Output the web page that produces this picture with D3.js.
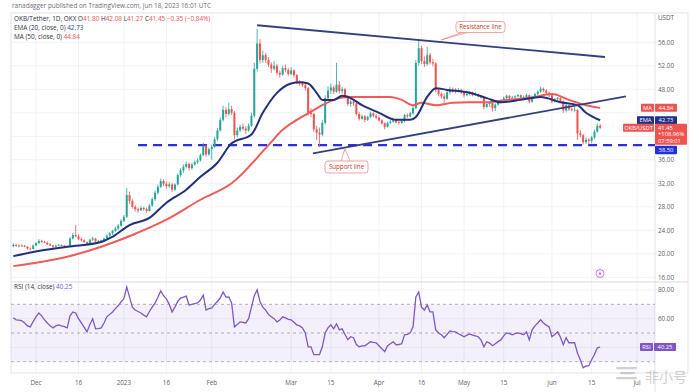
<!DOCTYPE html>
<html><head><meta charset="utf-8">
<script src="https://cdn.jsdelivr.net/npm/d3@7"></script>
<style>html,body{margin:0;padding:0;background:#fff;}svg{display:block;font-family:"Open Sans",Roboto,"Noto Sans",sans-serif;}</style>
</head><body>
<svg id="c" width="691" height="392"></svg>
<script>
// ---------------- DATA ----------------
const firstDay = "2022-11-23";           // first daily candle
// [open, high, low, close] per day, by month
const candlesNov = [[21.3,21.8,21.1,21.5],[21.5,21.7,21.2,21.4],[21.4,21.6,21.1,21.3],[21.3,21.6,21.2,21.4],[21.4,21.5,21.1,21.2],[21.2,21.3,20.7,20.9],[20.9,21.1,20.6,20.8],[20.8,21.6,20.8,21.4]];
const candlesDec = [[21.4,22.0,21.3,21.8],[21.8,22.5,21.7,22.2],[22.2,22.4,21.9,22.0],[22.0,22.2,21.8,21.9],[21.9,22.1,21.5,21.6],[21.6,21.8,21.3,21.4],[21.4,21.5,21.0,21.2],[21.2,21.6,21.1,21.4],[21.4,21.7,21.3,21.5],[21.5,21.6,21.3,21.4],[21.4,21.5,21.2,21.3],[21.3,21.4,21.0,21.2],[21.2,22.9,21.1,22.6],[22.6,23.6,22.4,23.2],[23.2,24.9,22.8,23.0],[23.0,23.3,22.3,22.5],[22.5,22.8,22.1,22.3],[22.3,22.5,21.9,22.0],[22.0,22.1,21.5,21.7],[21.7,22.6,21.6,22.4],[22.4,22.9,22.2,22.6],[22.6,22.7,21.9,22.1],[22.1,22.4,22.0,22.2],[22.2,22.4,22.1,22.3],[22.3,22.8,22.2,22.6],[22.6,23.3,22.5,23.1],[23.1,23.7,22.9,23.5],[23.5,24.1,23.2,23.9],[23.9,24.6,23.7,24.3],[24.3,25.1,24.0,24.8],[24.8,25.9,24.6,25.6]];
const candlesJan = [[25.6,26.6,25.4,26.3],[26.3,31.2,26.1,30.0],[30.0,30.6,28.5,29.0],[29.0,29.3,27.7,28.0],[28.0,28.3,27.2,27.6],[27.6,27.9,27.0,27.4],[27.4,28.1,27.3,27.8],[27.8,28.0,27.3,27.6],[27.6,27.9,27.0,27.3],[27.3,28.5,27.2,28.2],[28.2,29.6,28.0,29.3],[29.3,30.8,29.0,30.4],[30.4,31.8,30.1,31.4],[31.4,32.8,31.2,32.4],[32.4,32.7,31.5,31.9],[31.9,32.3,31.1,31.5],[31.5,32.2,31.2,31.8],[31.8,32.1,30.5,30.9],[30.9,32.0,30.7,31.8],[31.8,33.7,31.6,33.4],[33.4,34.6,33.1,34.2],[34.2,35.2,33.8,34.8],[34.8,35.7,34.5,35.3],[35.3,35.5,34.2,34.6],[34.6,35.5,34.3,35.2],[35.2,35.9,35.0,35.6],[35.6,36.3,35.3,35.9],[35.9,37.1,35.7,36.8],[36.8,38.9,36.6,38.4],[38.4,38.6,36.5,36.9],[36.9,38.1,36.7,37.8]];
const candlesFeb = [[37.8,38.6,36.0,38.2],[38.2,39.9,38.0,39.5],[39.5,41.4,39.2,41.0],[41.0,43.2,40.8,42.8],[42.8,45.2,42.5,44.5],[44.5,45.0,43.2,43.8],[43.8,45.7,43.5,44.6],[44.6,45.2,43.6,44.0],[44.0,44.3,39.4,40.2],[40.2,41.5,39.8,41.0],[41.0,42.0,40.7,41.6],[41.6,42.2,41.0,41.3],[41.3,41.7,40.4,41.0],[41.0,42.2,40.8,41.8],[41.8,44.0,41.6,43.5],[43.5,52.5,43.2,51.5],[51.5,58.3,51.0,55.8],[55.8,56.5,52.4,53.0],[53.0,54.6,52.5,53.8],[53.8,54.2,52.5,53.0],[53.0,53.5,51.8,52.2],[52.2,52.6,50.8,51.5],[51.5,52.8,51.2,52.0],[52.0,52.3,50.4,50.8],[50.8,51.2,50.0,50.5],[50.5,52.0,50.3,51.6],[51.6,52.2,51.0,51.3],[51.3,51.6,50.3,50.6]];
const candlesMar = [[50.6,51.8,50.4,51.2],[51.2,51.4,50.0,50.4],[50.4,50.6,48.9,49.3],[49.3,49.6,48.6,49.0],[49.0,49.4,48.4,48.7],[48.7,49.2,47.8,48.2],[48.2,48.4,43.5,44.0],[44.0,44.8,43.2,43.8],[43.8,44.0,40.8,41.2],[41.2,41.8,39.4,40.6],[40.6,41.5,38.2,40.3],[40.3,42.8,40.0,42.3],[42.3,47.0,42.0,46.5],[46.5,48.5,46.0,47.8],[47.8,49.0,47.2,48.3],[48.3,48.6,47.2,47.6],[47.6,52.5,47.4,48.8],[48.8,49.4,47.3,47.7],[47.7,48.4,47.3,48.0],[48.0,48.2,46.5,46.8],[46.8,47.0,45.2,45.5],[45.5,46.3,45.0,45.9],[45.9,46.2,45.2,45.6],[45.6,45.8,43.5,43.8],[43.8,44.1,42.7,43.0],[43.0,43.7,42.8,43.4],[43.4,43.6,42.4,42.8],[42.8,43.5,42.6,43.3],[43.3,44.2,43.1,43.9],[43.9,44.1,43.2,43.5],[43.5,43.8,42.9,43.2]];
const candlesApr = [[43.2,43.4,42.5,42.7],[42.7,42.9,42.0,42.2],[42.2,42.4,41.2,41.6],[41.6,42.5,41.5,42.3],[42.3,42.8,42.1,42.5],[42.5,43.2,42.3,42.9],[42.9,43.0,42.2,42.4],[42.4,42.6,42.0,42.3],[42.3,42.8,42.1,42.6],[42.6,43.8,42.4,43.6],[43.6,43.9,43.1,43.4],[43.4,44.2,43.2,43.9],[43.9,45.2,43.7,44.8],[44.8,53.0,44.6,52.5],[52.5,56.6,52.0,55.0],[55.0,55.4,52.3,52.8],[52.8,53.6,51.8,52.3],[52.3,55.2,52.0,53.8],[53.8,54.2,52.2,52.6],[52.6,53.2,51.9,52.4],[52.4,52.6,47.5,47.9],[47.9,48.2,46.8,47.2],[47.2,47.5,46.4,46.8],[46.8,47.3,45.7,46.4],[46.4,47.8,46.2,47.5],[47.5,48.4,47.1,48.0],[48.0,48.3,47.4,47.8],[47.8,48.2,47.3,47.7],[47.7,48.2,47.5,47.9],[47.9,48.1,47.2,47.5]];
const candlesMay = [[47.5,47.7,46.6,47.0],[47.0,47.5,46.8,47.2],[47.2,47.7,46.9,47.4],[47.4,47.6,46.8,47.0],[47.0,47.5,46.9,47.2],[47.2,47.3,46.6,46.8],[46.8,47.0,46.4,46.6],[46.6,46.7,44.6,45.0],[45.0,45.8,44.8,45.5],[45.5,46.0,45.0,45.7],[45.7,45.8,44.2,44.8],[44.8,45.6,44.3,45.4],[45.4,46.1,45.2,45.9],[45.9,46.3,45.6,46.0],[46.0,46.8,45.8,46.5],[46.5,47.1,46.3,46.9],[46.9,47.0,46.2,46.5],[46.5,46.9,46.2,46.6],[46.6,47.0,46.4,46.8],[46.8,47.2,46.6,47.0],[47.0,47.1,46.4,46.6],[46.6,46.9,46.3,46.7],[46.7,47.3,46.5,47.0],[47.0,47.1,45.6,45.9],[45.9,46.9,45.7,46.8],[46.8,47.4,46.6,47.2],[47.2,47.8,47.0,47.6],[47.6,48.4,47.4,48.1],[48.1,48.3,47.5,47.8],[47.8,48.0,47.1,47.4],[47.4,47.6,46.7,47.0]];
const candlesJun = [[47.0,47.1,45.6,45.9],[45.9,46.5,45.7,46.3],[46.3,46.7,46.0,46.5],[46.5,46.6,45.8,46.0],[46.0,46.1,44.0,44.4],[44.4,45.6,44.1,45.3],[45.3,45.4,44.3,44.6],[44.6,44.9,44.2,44.5],[44.5,45.0,44.2,44.5],[44.5,44.6,39.4,40.5],[40.5,41.1,39.8,40.2],[40.2,40.4,38.6,39.0],[39.0,39.8,38.7,39.4],[39.4,39.7,38.5,39.2],[39.2,40.1,38.8,39.8],[39.8,41.1,39.5,40.8],[40.8,42.2,40.6,41.8],[41.80,42.08,41.27,41.45]];

// EMA(20) and MA(50): [day offset from firstDay, value]
const ema20 = [[0,19.6],[7,20.3],[19,21.2],[31,22.0],[35,22.9],[41,24.9],[48,26.1],[54,28.7],[61,30.9],[66,33.1],[72,35.5],[77,38.8],[84,40.3],[88,44.0],[93,47.4],[98,49.0],[101,49.2],[104,49.0],[107,47.4],[109,46.2],[113,46.2],[116,46.9],[119,46.5],[123,45.3],[129,44.0],[135,42.8],[140,42.8],[142,43.3],[146,46.7],[149,48.2],[153,47.9],[161,47.4],[167,46.5],[172,45.8],[179,46.2],[186,46.7],[193,45.8],[199,45.3],[202,44.0],[207,42.73]];
const ma50 = [[0,17.9],[7,18.4],[19,19.5],[31,21.2],[42,23.2],[54,25.8],[66,29.2],[77,32.0],[90,38.5],[95,41.1],[100,42.8],[105,44.2],[109,45.3],[115,46.5],[119,46.7],[123,46.7],[133,46.7],[137,46.2],[141,45.3],[144,45.7],[149,45.3],[155,45.7],[161,45.8],[167,45.8],[174,46.2],[182,46.5],[190,47.2],[196,46.2],[202,45.3],[207,44.84]];
// RSI(14) per day
const rsi = [60.6,59.2,59,58.5,57,55,54.3,58,61.3,64,62,59.2,57,55,53.6,55,55.7,55,54.5,53.6,62,64.7,64,60,57,54,50.8,56,59.9,52.9,53,53.6,57,61.3,63,64.7,67,69,71.7,74,82,75,68,66,65,64,62.5,61.3,65,68,71,75,79.3,76,73.8,70,64.7,68,72,74.4,75,75.8,69.6,70,70.5,71,73,76.5,66,67,67.5,70,72,74.4,78.6,75,75.1,71,54.3,56,57.8,57.5,57,60,68,76,80,72,68,66,63,61.3,60,57.8,59,61.3,60.5,59.5,59.2,57.5,55.7,55,53.6,50,40.4,40.4,34.9,35,34.9,40.4,50,53.6,55.7,52.9,56.4,52.2,52.9,49,45.3,47.4,46.7,42,40.4,41,41.1,42.5,43.9,43.5,43.2,41.1,39,37,41,42.5,43.9,41.8,42,42.5,48.8,49,50.1,54.3,75.1,78.6,68,66,69.6,64.7,64.7,52.2,50,48.8,46.7,49,51.5,51,50.8,49.5,48.5,47.4,48.5,49.4,48.5,48,47.4,45,40.4,43.9,43,41.1,42.5,44,45.3,48,50.1,49.5,48.8,49.5,50.1,49.5,48.8,50.8,45.3,52.2,55,57,59.2,57,55.5,54.3,47.4,49,50.8,47,41.8,46.7,43.2,43.2,43.2,36,31.4,25.8,27,27.2,31.4,35,39.7,40.25];

// drawn lines: [day offset, price]
const resistanceLine = [[86,58.9],[208.7,53.5]];
const supportLine = [[105.7,37.1],[216.1,46.8]];
const supportLevel = 38.5, supportLevelFrom = 44;

const priceTicks = [56,52,48,36,32,28,24,20,16];
const rsiTicks = [80,60];
const rsiBands = [70,50,30];
const xTicks = [["2022-12-01","Dec"],["2022-12-16","16"],["2023-01-01","2023"],["2023-01-16","16"],["2023-02-01","Feb"],["2023-03-01","Mar"],["2023-03-15","15"],["2023-04-01","Apr"],["2023-04-16","16"],["2023-05-01","May"],["2023-05-15","15"],["2023-06-01","Jun"],["2023-06-15","15"],["2023-07-01","Jul"]];
const header = {by:"ranadagger published on TradingView.com, Jun 18, 2023 16:01 UTC", sym:"OKB/Tether, 1D, OKX", o:"41.80", h:"42.08", l:"41.27", c:"41.45", chg:"−0.35 (−0.84%)"};
const lastInfo = {ma:"44.84", ema:"42.73", price:"41.45", pct:"+108.96%", timer:"07:59:01", level:"38.50", rsi:"40.25"};

// ---------------- CHART ----------------
const candles = [].concat(candlesNov,candlesDec,candlesJan,candlesFeb,candlesMar,candlesApr,candlesMay,candlesJun);
const t0 = d3.utcParse("%Y-%m-%d")(firstDay);
const dayDate = i => new Date(t0.getTime() + i*86400000);
const pd = d3.utcParse("%Y-%m-%d");

const svg = d3.select("#c");
const L = 11, R = 655, PT = 13, PB = 282, RB = 373;
const x = d3.scaleUtc().domain([pd("2022-12-01"), pd("2023-07-01")]).range([36, 637]);
const y = d3.scaleLinear().domain([16,56]).range([277.3,42.3]);
const yr = d3.scaleLinear().domain([30,80]).range([361.7,290]);
const green = "#26a69a", red = "#ef5350", navy = "#22307a", grid = "#f0f2f7";

// grid
const g = svg.append("g");
g.selectAll(".vg").data(xTicks).join("line").attr("x1",d=>x(pd(d[0]))).attr("x2",d=>x(pd(d[0]))).attr("y1",PT).attr("y2",RB).attr("stroke",grid).attr("stroke-width",1);
g.selectAll(".hg").data(d3.range(16,57,4)).join("line").attr("x1",L).attr("x2",R).attr("y1",d=>y(d)).attr("y2",d=>y(d)).attr("stroke",grid);
g.selectAll(".rg").data([80,60,40]).join("line").attr("x1",L).attr("x2",R).attr("y1",d=>yr(d)).attr("y2",d=>yr(d)).attr("stroke",grid);

// frame
svg.append("rect").attr("x",L).attr("y",PT).attr("width",688-L).attr("height",RB-PT).attr("fill","none").attr("stroke","#e0e3eb");
svg.append("line").attr("x1",R).attr("x2",R).attr("y1",PT).attr("y2",392).attr("stroke","#e0e3eb");
svg.append("line").attr("x1",L).attr("x2",688).attr("y1",PB).attr("y2",PB).attr("stroke","#d6d9e0");

// RSI band
svg.append("rect").attr("x",L).attr("width",R-L).attr("y",yr(70)).attr("height",yr(30)-yr(70)).attr("fill","#7e57c2").attr("fill-opacity",0.09);
svg.selectAll(".rb").data(rsiBands).join("line").attr("x1",L).attr("x2",R).attr("y1",d=>yr(d)).attr("y2",d=>yr(d)).attr("stroke","#9e9bb0").attr("stroke-dasharray","3,3").attr("stroke-width",0.8);

// horizontal support level
svg.append("line").attr("x1",x(dayDate(supportLevelFrom))).attr("x2",R).attr("y1",y(supportLevel)).attr("y2",y(supportLevel)).attr("stroke","#2b2fe0").attr("stroke-width",2.2).attr("stroke-dasharray","9,6");

// candles
const cg = svg.append("g");
cg.selectAll(".wick").data(candles).join("line")
  .attr("x1",(d,i)=>x(dayDate(i))).attr("x2",(d,i)=>x(dayDate(i)))
  .attr("y1",d=>y(d[1])).attr("y2",d=>y(d[2]))
  .attr("stroke",d=>d[3]>=d[0]?green:red).attr("stroke-width",0.8);
cg.selectAll(".body").data(candles).join("rect")
  .attr("x",(d,i)=>x(dayDate(i))-1).attr("width",2)
  .attr("y",d=>y(Math.max(d[0],d[3])))
  .attr("height",d=>Math.max(0.8,Math.abs(y(d[0])-y(d[3]))))
  .attr("fill",d=>d[3]>=d[0]?green:red);

// MA / EMA
const line = d3.line().x(d=>x(dayDate(d[0]))).y(d=>y(d[1])).curve(d3.curveMonotoneX);
svg.append("path").attr("d",line(ma50)).attr("fill","none").attr("stroke","#f05a57").attr("stroke-width",2);
svg.append("path").attr("d",line(ema20)).attr("fill","none").attr("stroke",navy).attr("stroke-width",2);

// trend lines
const tl = d3.line().x(d=>x(dayDate(d[0]))).y(d=>y(d[1]));
svg.append("path").attr("d",tl(resistanceLine)).attr("stroke","#34407e").attr("stroke-width",1.8).attr("fill","none");
svg.append("path").attr("d",tl(supportLine)).attr("stroke","#34407e").attr("stroke-width",1.8).attr("fill","none");

// callouts
function callout(bx,by,bw,bh,ax,text){
  const p = `M${bx+3},${by} H${bx+bw-3} Q${bx+bw},${by} ${bx+bw},${by+3} V${by+bh-3} Q${bx+bw},${by+bh} ${bx+bw-3},${by+bh} H${bx+3} Q${bx},${by+bh} ${bx},${by+bh-3} V${by+3} Q${bx},${by} ${bx+3},${by} Z`;
  svg.append("path").attr("d",p).attr("fill","#fff").attr("stroke","#e8908a").attr("stroke-width",0.8);
  svg.append("path").attr("d",ax).attr("fill","none").attr("stroke","#e8908a").attr("stroke-width",0.8);
  svg.append("text").attr("x",bx+bw/2).attr("y",by+bh/2+2.2).attr("text-anchor","middle").attr("font-size",6.2).attr("fill","#c0392b").text(text);
}
callout(456,21.5,49,11,"M462,32.5 L441,40 L467,32.5","Resistance line");
callout(325,161,43,12,"M341,161 L345,149 L350,161","Support line");

// RSI line
const rl = d3.line().x((d,i)=>x(dayDate(i))).y(d=>yr(d));
svg.append("path").attr("d",rl(rsi)).attr("fill","none").attr("stroke","#7e57c2").attr("stroke-width",1.3);

// event marker
svg.append("circle").attr("cx",600).attr("cy",273.5).attr("r",4).attr("fill","#fff").attr("stroke","#c27bd6").attr("stroke-width",1);
svg.append("circle").attr("cx",600).attr("cy",273.5).attr("r",1.3).attr("fill","#c27bd6");

// price axis
const ax = svg.append("g").attr("font-size",6.3).attr("fill","#5d606b");
ax.append("text").attr("x",658).attr("y",20).text("USDT");
ax.selectAll(".pt").data(priceTicks).join("text").attr("x",658).attr("y",d=>y(d)+2.2).text(d=>d.toFixed(2));
ax.selectAll(".rt").data(rsiTicks).join("text").attr("x",658).attr("y",d=>yr(d)+2.2).text(d=>d.toFixed(2));

function tag(x0,w,yc,h,fill,txt,col){
  svg.append("rect").attr("x",x0).attr("y",yc-h/2).attr("width",w).attr("height",h).attr("fill",fill).attr("rx",0.8);
  svg.append("text").attr("x",x0+w/2).attr("y",yc+2.1).attr("text-anchor","middle").attr("font-size",5.8).attr("fill",col||"#fff").text(txt);
}
tag(641,13,y(44.84),8,red,"MA"); tag(655,22,y(44.84),8,red,lastInfo.ma);
tag(637,17,y(42.73),8,"#1f2f8a","EMA"); tag(655,22,y(42.73),8,"#1f2f8a",lastInfo.ema);
tag(623,31,y(41.45),8,red,"OKB/USDT");
svg.append("rect").attr("x",655).attr("y",y(41.45)-4).attr("width",32).attr("height",21).attr("fill",red).attr("rx",0.8);
[lastInfo.price,lastInfo.pct,lastInfo.timer].forEach((t,k)=>svg.append("text").attr("x",658).attr("y",y(41.45)+2.1+k*6.6).attr("font-size",5.8).attr("fill","#fff").text(t));
tag(655,22,y(38.5)+4.8,8.5,"#2230d8",lastInfo.level);
tag(640,13,yr(40.25),8,"#7e57c2","RSI"); tag(654,22,yr(40.25),8,"#7e57c2",lastInfo.rsi);

// time axis
svg.append("g").attr("font-size",6.3).attr("fill","#5d606b").selectAll("text").data(xTicks).join("text")
  .attr("x",d=>x(pd(d[0]))).attr("y",385).attr("text-anchor","middle").text(d=>d[1]);

// header
const hd = svg.append("g").attr("font-size",6.4);
hd.append("text").attr("x",12).attr("y",8).attr("fill","#6a6d78").text(header.by);
const t2 = hd.append("text").attr("x",14).attr("y",21).attr("fill","#2f3241");
t2.append("tspan").text(header.sym+"  O");
t2.append("tspan").attr("fill",red).text(header.o);
t2.append("tspan").text(" H"); t2.append("tspan").attr("fill",red).text(header.h);
t2.append("tspan").text(" L"); t2.append("tspan").attr("fill",red).text(header.l);
t2.append("tspan").text(" C"); t2.append("tspan").attr("fill",red).text(header.c);
t2.append("tspan").attr("fill",red).text(" "+header.chg);
const t3 = hd.append("text").attr("x",14).attr("y",30).attr("fill","#2f3241");
t3.append("tspan").text("EMA (20, close, 0) "); t3.append("tspan").attr("fill","#2a3fa0").text(lastInfo.ema);
const t4 = hd.append("text").attr("x",14).attr("y",39).attr("fill","#2f3241");
t4.append("tspan").text("MA (50, close, 0) "); t4.append("tspan").attr("fill",red).text(lastInfo.ma);
const t5 = hd.append("text").attr("x",14).attr("y",289).attr("fill","#2f3241");
t5.append("tspan").text("RSI (14, close) "); t5.append("tspan").attr("fill","#7e57c2").text(lastInfo.rsi);

// watermark
const wm = svg.append("g").attr("opacity",0.45);
[0,5,10].forEach((o,k)=>wm.append("rect").attr("x",616+(k===1?4:0)).attr("y",367+o).attr("width",k===1?15:21).attr("height",2.2).attr("rx",1.1).attr("fill","#9a9a9a"));
wm.append("text").attr("x",645).attr("y",382).attr("font-size",14).attr("font-family","Noto Sans CJK SC").attr("fill","#9a9a9a").text("非小号");
</script>
</body></html>
